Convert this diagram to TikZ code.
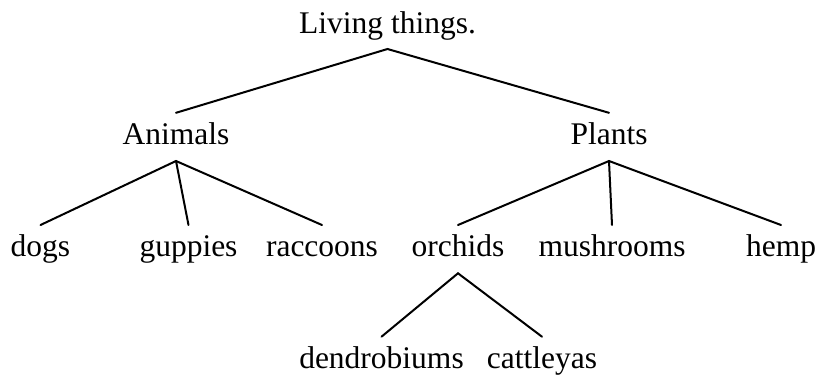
\documentclass[tikz,border=0pt]{standalone}
\usepackage{fontspec}
\setmainfont{Liberation Serif}
\begin{document}
\begin{tikzpicture}[x=1pt,y=-1pt,
  lbl/.style={inner sep=0pt,anchor=base,font=\fontsize{31.5}{36}\selectfont},
  edge/.style={line width=2pt,line cap=round}]
\path[use as bounding box] (0,0) rectangle (819,378);
\node[lbl] (living) at (387.5,33.3) {Living things.};
\node[lbl] (animals) at (176,144.3) {Animals};
\node[lbl] (plants) at (609,144.3) {Plants};
\node[lbl] (dogs) at (40.5,256) {dogs};
\node[lbl] (guppies) at (188.5,256) {guppies};
\node[lbl] (raccoons) at (322,256) {raccoons};
\node[lbl] (orchids) at (458,256) {orchids};
\node[lbl] (mushrooms) at (612,256) {mushrooms};
\node[lbl] (hemp) at (781,256) {hemp};
\node[lbl] (dendro) at (381.5,368) {dendrobiums};
\node[lbl] (cattleyas) at (542,368) {cattleyas};
\draw[edge] ([yshift=31.5pt]animals.base) -- ([yshift=-15.7pt]living.base) -- ([yshift=31.5pt]plants.base);
\draw[edge] ([yshift=31pt]dogs.base) -- ([yshift=-16.7pt]animals.base) -- ([yshift=31pt]raccoons.base);
\draw[edge] ([yshift=-16.7pt]animals.base) -- ([yshift=31pt]guppies.base);
\draw[edge] ([yshift=31pt]orchids.base) -- ([yshift=-16.7pt]plants.base) -- ([yshift=31pt]hemp.base);
\draw[edge] ([yshift=-16.7pt]plants.base) -- ([yshift=31pt]mushrooms.base);
\draw[edge] ([yshift=31.3pt]dendro.base) -- ([yshift=-17.3pt]orchids.base) -- ([yshift=31.3pt]cattleyas.base);
\end{tikzpicture}
\end{document}
